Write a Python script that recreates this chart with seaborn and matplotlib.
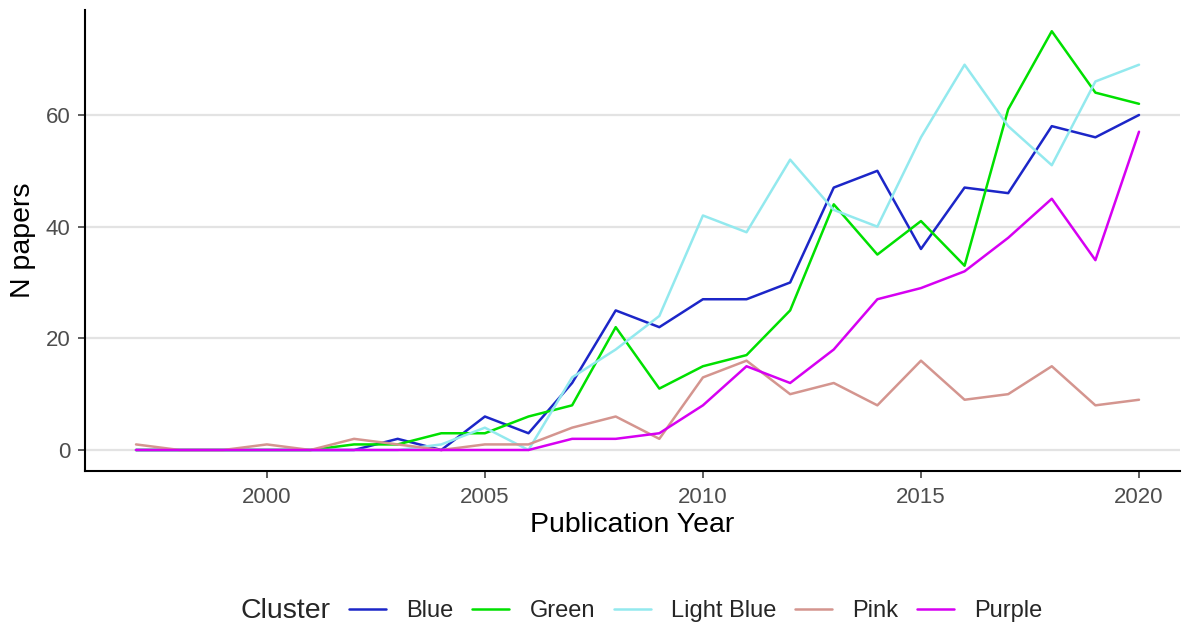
import matplotlib
matplotlib.use("Agg")
import matplotlib.pyplot as plt
import seaborn as sns
import pandas as pd
from matplotlib.lines import Line2D

years = list(range(1997, 2021))
clusters = ["Blue", "Green", "Light Blue", "Pink", "Purple"]
blue = [0, 0, 0, 0, 0, 0, 2, 0, 6, 3, 12, 25, 22, 27, 27, 30, 47, 50, 36, 47, 46, 58, 56, 60]
green = [0, 0, 0, 0, 0, 1, 1, 3, 3, 6, 8, 22, 11, 15, 17, 25, 44, 35, 41, 33, 61, 75, 64, 62]
light_blue = [0, 0, 0, 0, 0, 0, 0, 1, 4, 0, 13, 18, 24, 42, 39, 52, 43, 40, 56, 69, 58, 51, 66, 69]
pink = [1, 0, 0, 1, 0, 2, 1, 0, 1, 1, 4, 6, 2, 13, 16, 10, 12, 8, 16, 9, 10, 15, 8, 9]
purple = [0, 0, 0, 0, 0, 0, 0, 0, 0, 0, 2, 2, 3, 8, 15, 12, 18, 27, 29, 32, 38, 45, 34, 57]
colors = ["#1C26C8", "#00E000", "#93E9EE", "#D4958F", "#D600F2"]
y_ticks = [0, 20, 40, 60]
x_ticks = [2000, 2005, 2010, 2015, 2020]

series = [blue, green, light_blue, pink, purple]
df = pd.DataFrame({
    "Publication Year": years * len(clusters),
    "N papers": [v for s in series for v in s],
    "Cluster": [c for c in clusters for _ in years],
})

sns.set_theme(style="white")
plt.rcParams["font.family"] = ["Liberation Sans", "DejaVu Sans"]

fig = plt.figure(figsize=(11.9, 6.24), dpi=100)
ax = fig.add_axes([85 / 1190, 1 - 471 / 624, (1180 - 85) / 1190, (471 - 10) / 624])

sns.lineplot(data=df, x="Publication Year", y="N papers", hue="Cluster",
             hue_order=clusters, palette=dict(zip(clusters, colors)),
             linewidth=1.8, ax=ax, legend=False)

ax.set_xlim(1995.83, 2020.94)
ax.set_ylim(-3.76, 78.8)
ax.set_xticks(x_ticks)
ax.set_yticks(y_ticks)
ax.grid(axis="y", color="#E3E3E3", linewidth=1.6)
ax.grid(axis="x", visible=False)
ax.set_axisbelow(True)
for side in ["top", "right"]:
    ax.spines[side].set_visible(False)
for side in ["left", "bottom"]:
    ax.spines[side].set_color("black")
    ax.spines[side].set_linewidth(1.5)
ax.tick_params(axis="both", which="major", length=5, width=1.1, color="#333333",
               labelsize=16, labelcolor="#4D4D4D", bottom=True, left=True)
ax.tick_params(axis="x", pad=6.5)
ax.tick_params(axis="y", pad=5.5)
ax.set_xlabel("Publication Year", fontsize=20.5, color="black", labelpad=3)
ax.set_ylabel("N papers", fontsize=20.5, color="black", labelpad=7)

handles = [Line2D([0], [0], color=c, lw=1.8) for c in colors]
leg = fig.legend(handles, clusters, loc="center left", bbox_to_anchor=(349 / 1190, 13 / 624),
                 ncol=5, frameon=False, fontsize=17, handlelength=1.57, handletextpad=0.85,
                 columnspacing=0.8, borderpad=0, borderaxespad=0)
fig.text(331 / 1190, 13 / 624, "Cluster", ha="right", va="center", fontsize=20.5)

fig.savefig("out.png", dpi=100, facecolor="white")
